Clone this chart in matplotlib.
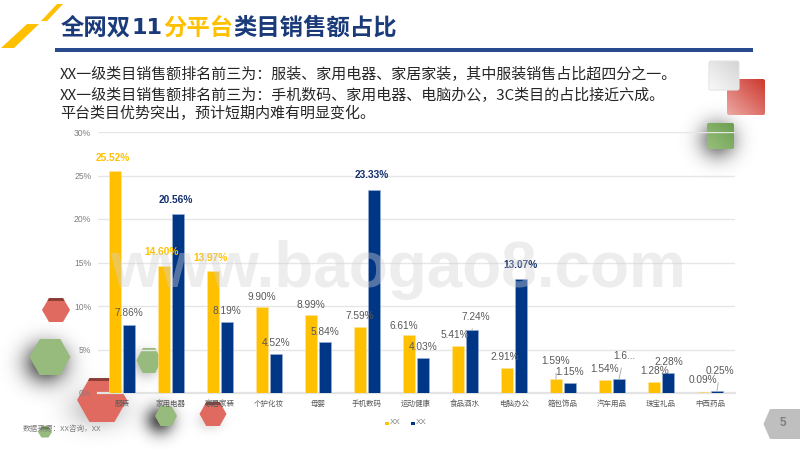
import numpy as np
import matplotlib
matplotlib.use("Agg")
import matplotlib.pyplot as plt
from matplotlib.patches import Polygon, FancyBboxPatch

plt.rcParams['font.family'] = ['Noto Sans CJK SC', 'DejaVu Sans']

categories = ['服装', '家用电器', '家居家装', '个护化妆', '母婴', '手机数码', '运动健康',
              '食品酒水', '电脑办公', '箱包饰品', '汽车用品', '珠宝礼品', '中西药品']
series_a = [25.52, 14.60, 13.97, 9.90, 8.99, 7.59, 6.61, 5.41, 2.91, 1.59, 1.54, 1.28, 0.09]
series_b = [7.86, 20.56, 8.19, 4.52, 5.84, 23.33, 4.03, 7.24, 13.07, 1.15, 1.60, 2.28, 0.25]
labels_b = ['7.86%', '20.56%', '8.19%', '4.52%', '5.84%', '23.33%', '4.03%', '7.24%', '13.07%',
            '1.15%', '1.6...', '2.28%', '0.25%']
series_names = ['XX', 'XX']
y_ticks = [0, 5, 10, 15, 20, 25, 30]

# label offsets in px from the top centre of each bar
off_a = [(-2, 13), (-2, 14), (-2, 13.5), (0, 10), (0, 10), (0, 11), (-5, 9.5),
         (-3, 11), (-2, 10.7), (0, 18), (0, 10.6), (1, 11), (0, 12)]
off_b = [(0, 11.6), (-2, 14), (0, 11), (0, 10.7), (0, 10), (-2, 15), (0, 11),
         (4, 13), (-1, 14), (0, 11), (5, 23), (1, 11), (3, 20)]
bold_a = {0, 1, 2}
bold_b = {1, 5, 8}
leader_a = {9, 12}
leader_b = {7, 10, 12}

YELLOW = '#FFC000'
BLUE = '#003686'
NAVY = '#1B3A7A'
GREY = '#7F7F7F'
W, H = 800, 450

fig = plt.figure(figsize=(8, 4.5), dpi=100, facecolor='white')

# ---------- decoration layer (pixel coordinates) ----------
deco = fig.add_axes([0, 0, 1, 1], zorder=0)
deco.set_xlim(0, W); deco.set_ylim(H, 0); deco.axis('off')
yy, xx = np.mgrid[0:H, 0:W] + 0.5


def shadow(ax, cx, cy, sx, sy, strength):
    a = strength * np.exp(-0.5 * (((xx - cx) / sx) ** 2 + ((yy - cy) / sy) ** 2))
    img = np.zeros((H, W, 4))
    img[..., 3] = a
    ax.imshow(img, extent=(0, W, H, 0), zorder=1, interpolation='bilinear', aspect='auto')


def hexagon(ax, cx, cy, w, h, color, top=None):
    pts = [(cx - w / 2, cy), (cx - w / 4, cy - h / 2), (cx + w / 4, cy - h / 2),
           (cx + w / 2, cy), (cx + w / 4, cy + h / 2), (cx - w / 4, cy + h / 2)]
    ax.add_patch(Polygon(pts, closed=True, fc=color, ec='none', zorder=3))
    if top:
        ax.add_patch(Polygon([(cx - w / 4, cy - h / 2), (cx + w / 4, cy - h / 2),
                              (cx + w / 4 + 1.5, cy - h / 2 + 3), (cx - w / 4 - 1.5, cy - h / 2 + 3)],
                             closed=True, fc=top, ec='none', zorder=4))


def grad_square(ax, x0, y0, x1, y1, c0, c1, edge=None):
    n = 60
    t = np.linspace(0, 1, n)
    u, v = np.meshgrid(t, t)
    m = ((u + (1 - v)) / 2)[..., None]
    img = np.array(c0) * (1 - m) + np.array(c1) * m
    im = ax.imshow(img, extent=(x0, x1, y1, y0), zorder=3, aspect='auto', interpolation='bilinear')
    p = FancyBboxPatch((x0 + 1, y0 + 1), x1 - x0 - 2, y1 - y0 - 2, boxstyle='round,pad=1,rounding_size=2',
                       fc='none', ec=edge or 'none', lw=0.8, zorder=4, transform=ax.transData)
    ax.add_patch(p)
    im.set_clip_path(p)


RED_HEX = '#E06A60'
GREEN_HEX = '#97BB7C'
shadow(deco, 46, 363, 15, 14, 0.75)
shadow(deco, 160, 420, 10, 10, 0.7)
shadow(deco, 146, 364, 9, 9, 0.3)
shadow(deco, 98, 408, 20, 14, 0.25)
shadow(deco, 210, 420, 9, 7, 0.15)
shadow(deco, 718, 140, 13, 13, 0.55)

hexagon(deco, 56, 310, 28, 24, RED_HEX, top='#8E3E38')
hexagon(deco, 50, 357, 41, 36, GREEN_HEX)
hexagon(deco, 149, 360.5, 25, 25, GREEN_HEX)
hexagon(deco, 102, 400, 50, 44, RED_HEX, top='#8E3E38')
hexagon(deco, 166, 416, 22, 20, GREEN_HEX)
hexagon(deco, 213, 414, 27, 24, RED_HEX, top='#8E3E38')
hexagon(deco, 45, 432, 14, 11, GREEN_HEX, top='#5F8248')

grad_square(deco, 727, 79, 765, 115, (0.93, 0.66, 0.64), (0.80, 0.22, 0.18))
grad_square(deco, 709, 61, 739, 90, (0.98, 0.98, 0.98), (0.83, 0.83, 0.83), edge='#E4E4E4')
grad_square(deco, 707, 123, 734, 149, (0.60, 0.75, 0.49), (0.42, 0.62, 0.31))

deco.add_patch(Polygon([(1, 48), (27, 24), (39, 24), (14, 48)], fc=YELLOW, ec='none', zorder=3))
deco.add_patch(Polygon([(41, 21), (57, 4), (63, 4), (47, 21)], fc=YELLOW, ec='none', zorder=3))
deco.add_patch(Polygon([(55, 48), (753, 48), (753, 51.5), (55, 51.5)], fc='#274B8E', ec='none', zorder=3))
deco.add_patch(Polygon([(770, 409), (800, 409), (800, 439), (770, 439), (763.5, 424)],
                       fc='#BFBFBF', ec='none', zorder=3))
deco.text(783, 423.5, '5', color='#7F7F7F', fontsize=8.5, fontweight='bold', ha='center', va='center',
          family='Liberation Sans', zorder=5)

for s, x, c in [('全网双', 61, NAVY), ('分平台', 163, YELLOW), ('类目销售额占比', 233, NAVY)]:
    deco.text(x, 28, s, color=c, fontsize=16.8, fontweight='bold', ha='left', va='center', zorder=5)
deco.text(132, 28, '11', color=NAVY, fontsize=16, fontweight='bold', family='DejaVu Sans',
          ha='left', va='center', zorder=5)

body = ['XX一级类目销售额排名前三为：服装、家用电器、家居家装，其中服装销售占比超四分之一。',
        'XX一级类目销售额排名前三为：手机数码、家用电器、电脑办公，3C类目的占比接近六成。',
        '平台类目优势突出，预计短期内难有明显变化。']
for s, y in zip(body, [74, 95, 113]):
    deco.text(60, y, s, color='#262626', fontsize=10.8, ha='left', va='center', zorder=5)

# ---------- chart layer ----------
ax = fig.add_axes([97.5 / W, 1 - 393 / H, 637 / W, 261 / H], zorder=1)
ax.patch.set_alpha(0)
x = np.arange(len(categories))
bw = 11.5 / 49
sep = 7 / 49
bars_a = ax.bar(x - sep, series_a, bw, color=YELLOW, edgecolor='#FFE49A', linewidth=0.4, zorder=3)
bars_b = ax.bar(x + sep, series_b, bw, color=BLUE, edgecolor='#9DB0D6', linewidth=0.4, zorder=3)
ax.set_xlim(-0.5, len(categories) - 0.5)
ax.set_ylim(0, 30)
ax.set_yticks(y_ticks)
ax.set_yticklabels([f'{v}%' for v in y_ticks], family='Liberation Sans', fontsize=6.2, color=GREY)
ax.set_xticks(x)
ax.set_xticklabels(categories, fontsize=5.4, color='#595959')
ax.tick_params(axis='y', length=0, pad=4.5)
ax.tick_params(axis='x', length=0, pad=5)
ax.grid(axis='y', color='#E6E6E6', lw=1, zorder=1)
ax.set_axisbelow(True)
for k, sp in ax.spines.items():
    sp.set_visible(False)
ax.axhline(0, color='#E3E3E3', lw=1.6, zorder=2, clip_on=False)

PX = 0.72
for i in range(len(categories)):
    for xs, v, txt, off, bold_set, lead, col in (
        (x[i] - sep, series_a[i], f'{series_a[i]:.2f}%', off_a[i], bold_a, leader_a, YELLOW),
        (x[i] + sep, series_b[i], labels_b[i], off_b[i], bold_b, leader_b, '#14306E'),
    ):
        bold = i in bold_set
        arrow = None
        if i in lead:
            arrow = dict(arrowstyle='-', color='#A6A6A6', lw=0.6, shrinkA=3, shrinkB=0)
        ax.annotate(txt, xy=(xs, v), xytext=(off[0] * PX, off[1] * PX), textcoords='offset points',
                    ha='center', va='center', family='Liberation Sans', fontsize=7.3,
                    fontweight='bold' if bold else 'normal',
                    color=col if bold else '#595959', arrowprops=arrow, zorder=5)

# ---------- legend and source ----------
for col, xl, name in zip((YELLOW, BLUE), (385, 411), series_names):
    deco.add_patch(Polygon([(xl, 421.5), (xl + 3.5, 421.5), (xl + 3.5, 425), (xl, 425)], fc=col, ec='none', zorder=5))
    deco.text(xl + 5, 422.5, name, color='#7F7F7F', fontsize=5.8, family='Liberation Sans',
              ha='left', va='center', zorder=5)
deco.text(23, 429, '数据来源：XX咨询，XX', color='#7F7F7F', fontsize=5.5, ha='left', va='center', zorder=6)

# ---------- watermark ----------
top = fig.add_axes([0, 0, 1, 1], zorder=2)
top.set_xlim(0, W); top.set_ylim(H, 0); top.axis('off'); top.patch.set_alpha(0)
top.text(110, 287, 'www.baogao8.com', family='Liberation Sans', fontweight='bold', fontsize=46,
         color='#D2D2D2', alpha=0.4, ha='left', va='baseline')

fig.savefig('out.png', dpi=100, facecolor='white')
